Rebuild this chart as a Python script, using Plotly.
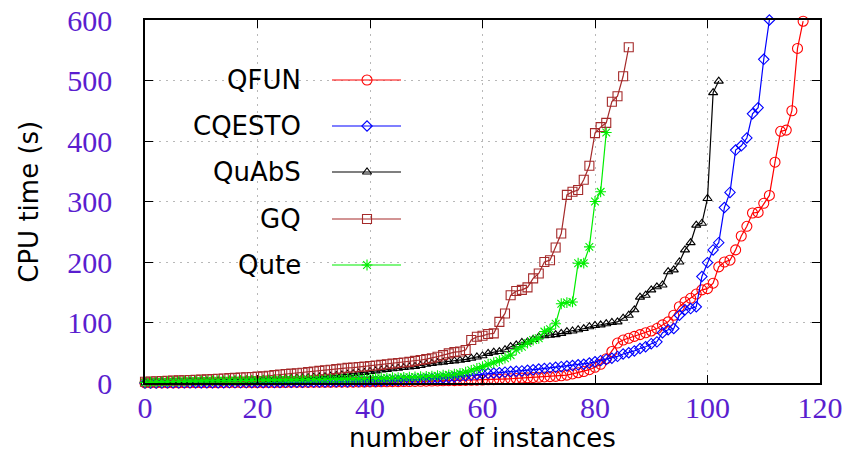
import plotly.graph_objects as go

# ---------------- data ----------------
qfun = [0.1,0.1,0.1,0.2,0.2,0.2,0.2,0.3,0.3,0.3,
        0.3,0.4,0.4,0.4,0.5,0.5,0.5,0.6,0.6,0.7,
        0.7,0.7,0.8,0.8,0.9,0.9,1.0,1.0,1.1,1.1,
        1.2,1.2,1.3,1.3,1.4,1.4,1.5,1.5,1.6,1.7,
        1.8,1.9,2.0,2.1,2.2,2.3,2.4,2.5,2.6,2.8,
        3.0,3.2,3.4,3.6,3.8,4.0,4.2,4.4,4.6,4.8,
        5.0,5.3,5.6,6.0,6.5,7.0,7.5,8.0,8.5,9.0,
        9.5,10,10.5,11,12,13,15,17,19,22,
        26,31,40,52,66,71,74,77,80,83,
        86,90,96,101,112,126,134,140,147,154,
        156,165,192,200,203,220,243,259,281,282,
        297,310,365,416,418,450,553,598]

cqesto = [0.1,0.1,0.1,0.2,0.2,0.2,0.3,0.3,0.3,0.4,
          0.4,0.4,0.5,0.5,0.5,0.6,0.6,0.7,0.7,0.8,
          0.8,0.9,0.9,1.0,1.0,1.1,1.2,1.3,1.4,1.5,
          1.6,1.7,1.8,1.9,2.0,2.1,2.2,2.3,2.4,2.5,
          2.7,3.0,3.3,3.6,4.0,4.3,4.6,5.0,5.5,6.0,
          6.5,7,7.5,8,9,10,11,12,13,14,
          15,16,16.5,17,18,19,19.5,20,21,22,
          23,24,25,26,27,28,29,30,31,33,
          35,37,39,41,44,48,50,53,57,60,
          65,68,83,88,90,112,121,123,126,176,
          199,220,232,290,315,385,392,405,445,455,
          535,600]

quabs = [0.5,0.6,0.8,1.0,1.2,1.4,1.6,1.8,2.0,2.2,
         2.5,2.8,3.0,3.3,3.6,3.9,4.2,4.5,4.8,5.0,
         5.3,5.6,6.0,6.4,6.8,7.2,7.6,8.0,8.5,9.0,
         9.5,10,10.5,11.5,12.5,13.5,14.5,15.5,16.5,17.5,
         19,20,21.5,22.5,23.5,24.5,25.5,26.5,27.5,29,
         31,32.5,33.5,34.5,35.5,36.5,37.5,39,41,43,
         45,49,51,52,55,60,63,67,68,72,
         76,78,79,80,82,85,86,88,90,93,
         95,96,98,100,101,107,112,121,142,145,
         154,159,162,184,187,200,220,232,261,264,
         305,480,499]

gq = [2,2.5,3,3.3,3.6,4,4.3,4.6,5,5.3,
      5.6,6,6.5,7,7.5,8,8.5,9,9.5,10,
      10.5,11,12,13,14,15,15.5,16,17,18,
      19,20,21,22,23,24,25,25.5,26.5,27,
      28,29,30,31,32,33,34,35,36.5,38,
      39.5,41,43.5,46,49,51,52,54.5,71,76.5,
      78,81,82,101,115,145,152,154,158,173,
      181,200,203,224,247,311,316,319,336,359,
      413,423,430,465,474,507,555]

qute = [1,1.3,1.6,1.9,2.2,2.5,2.7,2.9,3.1,3.3,
        3.5,3.6,3.7,3.8,3.9,4,4.1,4.2,4.3,4.4,
        4.5,4.6,4.7,4.8,4.9,5,5.1,5.2,5.3,5.4,
        5.5,5.6,5.8,6,6.2,6.4,6.6,6.8,7,7.2,
        7.4,7.7,8,8.4,8.7,9,9.4,9.7,10,10.5,
        11,11.5,12,13,13.5,14.5,16,18,21,24,
        27,31,33.5,37,41,46,55,60,66,71,
        74,85,89,98,131,133,134,198,198,225,
        300,316,414]

series_names = ["QFUN", "CQESTO", "QuAbS", "GQ", "Qute"]
series_values = [qfun, cqesto, quabs, gq, qute]
x_ticks = [0, 20, 40, 60, 80, 100, 120]
y_ticks = [0, 100, 200, 300, 400, 500, 600]
x_title = "number of instances"
y_title = "CPU time (s)"

# ---------------- style ----------------
colors = ["#ff0000", "#0000ff", "#000000", "#a52a2a", "#00ee00"]
symbols = ["circle-open", "diamond-open", "triangle-up-open", "square-open", "asterisk-open"]
sizes = [10, 8, 8, 9, 9]
purple = "#5a1ecf"

fig = go.Figure()
for name, vals, c, s, sz in zip(series_names, series_values, colors, symbols, sizes):
    fig.add_trace(go.Scatter(
        x=list(range(len(vals))), y=vals, mode="lines+markers", name=name,
        line=dict(color=c, width=1.2),
        marker=dict(symbol=s, size=sz, color=c, line=dict(color=c, width=1.1)),
        cliponaxis=False, showlegend=False,
    ))

# custom key (text to the left of the sample), in paper units via an overlay axis
key_rows = [0.8347, 0.708, 0.5813, 0.4518, 0.3251]
for name, c, s, sz, ky in zip(series_names, colors, symbols, sizes, key_rows):
    fig.add_trace(go.Scatter(
        x=[0.277, 0.3793], y=[ky, ky], mode="lines", xaxis="x2", yaxis="y2",
        line=dict(color=c, width=1.2), showlegend=False, hoverinfo="skip"))
    fig.add_trace(go.Scatter(
        x=[0.3289], y=[ky], mode="markers", xaxis="x2", yaxis="y2",
        marker=dict(symbol=s, size=sz, color=c, line=dict(color=c, width=1.1)),
        showlegend=False, hoverinfo="skip"))
    fig.add_annotation(x=0.2341, y=ky, xref="paper", yref="paper", text=name,
                       showarrow=False, xanchor="right", yanchor="middle",
                       font=dict(family="DejaVu Sans", size=26, color="black"))

# axis titles
title_font = dict(family="DejaVu Sans", size=26, color="black")
fig.add_annotation(x=0.5, y=-0.152, xref="paper", yref="paper", text=x_title,
                   showarrow=False, xanchor="center", yanchor="middle", font=title_font)
fig.add_annotation(x=-0.173, y=0.5, xref="paper", yref="paper", text=y_title,
                   showarrow=False, xanchor="center", yanchor="middle", textangle=-90,
                   font=title_font)

# opaque key background over the grid
fig.add_shape(type="rect", xref="paper", yref="paper", x0=0.108, x1=0.3956,
              y0=0.2562, y1=0.9036, fillcolor="white", line=dict(width=0),
              layer="between")

axis_common = dict(
    showline=True, linecolor="black", linewidth=1.5, mirror="ticks",
    ticks="inside", ticklen=8, tickwidth=1.3, tickcolor="black",
    showgrid=True, gridcolor="#b8b8b8", griddash="2px,5px", gridwidth=1.2,
    zeroline=False, automargin=False,
    tickfont=dict(family="Liberation Serif", size=30, color=purple),
)

fig.update_layout(
    width=845, height=455,
    margin=dict(l=145, r=25, t=20, b=72, autoexpand=False),
    paper_bgcolor="white", plot_bgcolor="white",
    xaxis=dict(range=[0, 120], tickvals=x_ticks, ticklabelstandoff=-3, **axis_common),
    yaxis=dict(range=[0, 600], tickvals=y_ticks, ticklabelstandoff=25, **axis_common),
    xaxis2=dict(range=[0, 1], overlaying="x", visible=False, fixedrange=True),
    yaxis2=dict(range=[0, 1], overlaying="y", visible=False, fixedrange=True),
)

fig.write_html(
    "out.html",
    config={"displayModeBar": False},
    post_script="document.body.style.margin='0px';document.body.style.overflow='hidden';",
)
